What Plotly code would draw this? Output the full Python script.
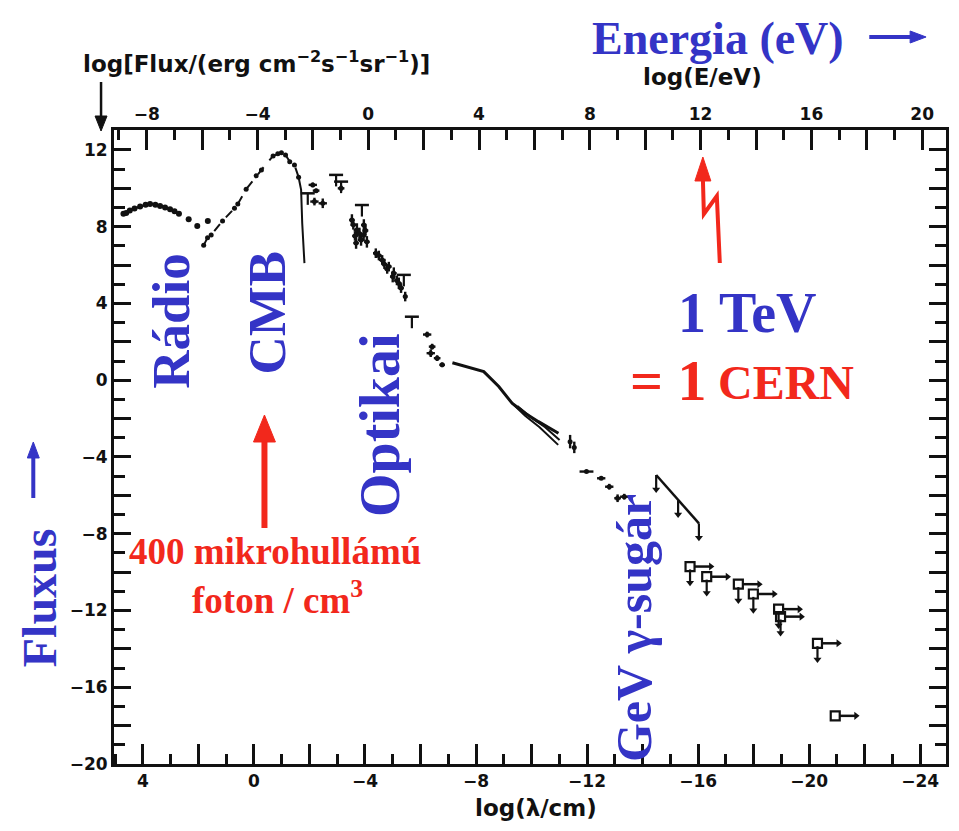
import plotly.graph_objects as go

# ---------------- data ----------------
# x = log(lambda/cm), y = log(flux / (erg cm^-2 s^-1 sr^-1))
radio_lam = [4.70, 4.60, 4.47, 4.30, 4.10, 3.90, 3.74, 3.55, 3.38, 3.20, 3.02, 2.86, 2.70]
radio_flux = [8.67, 8.72, 8.84, 8.95, 9.05, 9.14, 9.19, 9.15, 9.08, 9.00, 8.91, 8.80, 8.67]
radio2_lam = [2.35, 2.04, 1.66]
radio2_flux = [8.39, 8.04, 8.30]

cmb_lam = [1.81, 1.67, 1.54, 1.13, 0.70, 0.58, 0.28, -0.08, -0.27, -0.69, -0.86, -0.99, -1.14, -1.29, -1.46, -1.61]
cmb_flux = [7.03, 7.43, 7.57, 8.30, 8.96, 9.19, 9.95, 10.65, 10.96, 11.69, 11.80, 11.86, 11.74, 11.39, 11.22, 10.58]
wien_lam = [-1.61, -1.70, -1.74, -1.82]
wien_flux = [10.58, 9.92, 8.18, 6.10]

cross_lam = [-2.12, -2.24, -2.18, -2.48, -3.14,
             -3.53, -3.71, -3.96, -3.86, -4.07, -3.64, -3.58, -3.80, -3.95, -3.68, -4.02,
             -4.39, -4.50, -4.62, -4.70, -4.80, -4.86, -5.00, -5.04, -5.15, -5.22, -5.30, -5.45,
             -6.24, -6.42, -6.37, -6.60, -6.78,
             -11.39, -11.54, -11.98, -12.51, -12.80, -13.10, -13.34]
cross_flux = [10.18, 9.88, 9.31, 9.22, 10.00,
              8.35, 7.83, 8.09, 7.31, 7.21, 7.52, 8.10, 7.65, 7.55, 7.15, 7.80,
              6.62, 6.50, 6.27, 6.05, 5.80, 5.92, 5.40, 5.58, 5.20, 5.05, 4.80, 4.36,
              2.38, 1.75, 1.41, 1.15, 0.80,
              -3.20, -3.50, -4.76, -5.11, -5.55, -6.15, -6.07]
cross_ex = [0.15, 0.12, 0.15, 0.15, 0.12,
            0.10, 0.12, 0.10, 0.12, 0.10, 0.10, 0.10, 0.10, 0.10, 0.10, 0.10,
            0.10, 0.10, 0.12, 0.10, 0.10, 0.10, 0.10, 0.10, 0.10, 0.10, 0.10, 0.08,
            0.15, 0.12, 0.15, 0.12, 0.10,
            0.05, 0.05, 0.25, 0.15, 0.15, 0.12, 0.15]
cross_ey = [0.12, 0.10, 0.20, 0.25, 0.15,
            0.30, 0.35, 0.30, 0.30, 0.30, 0.25, 0.25, 0.30, 0.30, 0.30, 0.25,
            0.25, 0.25, 0.25, 0.25, 0.25, 0.25, 0.30, 0.30, 0.25, 0.30, 0.25, 0.25,
            0.15, 0.15, 0.20, 0.15, 0.12,
            0.35, 0.30, 0.05, 0.05, 0.15, 0.20, 0.15]

ul_lam = [-1.94, -2.96, -3.14, -3.89, -5.40, -5.69]
ul_flux = [9.74, 10.70, 10.35, 9.13, 5.49, 3.31]

xray_lam = [-7.15, -8.28, -8.82, -9.30, -9.77, -10.25, -10.97]
xray_flux = [0.91, 0.45, -0.33, -1.20, -1.72, -2.16, -2.76]
xray2_lam = [-9.30, -9.77, -10.29, -10.96]
xray2_flux = [-1.20, -1.85, -2.45, -3.37]
xray3_lam = [-9.49, -9.99, -10.49, -11.01]
xray3_flux = [-1.35, -1.95, -2.45, -3.11]

gam_lam = [-14.49, -15.28, -16.03]
gam_flux = [-4.94, -6.25, -7.46]

sq_lam = [-15.71, -16.31, -17.45, -17.99, -18.90, -18.97, -20.30, -20.94]
sq_flux = [-9.71, -10.24, -10.63, -11.14, -11.93, -12.32, -13.71, -17.49]
sq_down = [True, True, True, True, True, True, True, False]

# ---------------- styling ----------------
BLACK = "#111111"
BLUE = "#3434c6"
RED = "#f2281c"
SANS = "DejaVu Sans"
SERIF = "Liberation Serif"

fig = go.Figure()


def add(**kw):
    fig.add_trace(go.Scatter(showlegend=False, hoverinfo="skip", **kw))


# radio
add(x=radio_lam, y=radio_flux, mode="lines+markers",
    line=dict(color=BLACK, width=2), marker=dict(color=BLACK, size=6))
add(x=radio2_lam, y=radio2_flux, mode="markers", marker=dict(color=BLACK, size=6))
# CMB
add(x=cmb_lam, y=cmb_flux, mode="lines+markers",
    line=dict(color=BLACK, width=2, dash="dash"), marker=dict(color=BLACK, size=5))
add(x=wien_lam, y=wien_flux, mode="lines", line=dict(color=BLACK, width=2))
# crosses with error bars
add(x=cross_lam, y=cross_flux, mode="markers",
    marker=dict(color=BLACK, size=5),
    error_x=dict(type="data", array=cross_ex, width=0, thickness=2.4, color=BLACK),
    error_y=dict(type="data", array=cross_ey, width=0, thickness=2.4, color=BLACK))
# upper limits drawn as "T"
add(x=ul_lam, y=ul_flux, mode="markers",
    marker=dict(symbol="line-ew-open", size=10, color=BLACK, line=dict(color=BLACK, width=2.5)),
    error_y=dict(type="data", symmetric=False, array=[0] * len(ul_lam),
                 arrayminus=[0.6] * len(ul_lam), width=0, thickness=2.2, color=BLACK))
# X-ray bundle
add(x=xray_lam, y=xray_flux, mode="lines", line=dict(color=BLACK, width=3))
add(x=xray2_lam, y=xray2_flux, mode="lines", line=dict(color=BLACK, width=2))
add(x=xray3_lam, y=xray3_flux, mode="lines", line=dict(color=BLACK, width=2))

# gamma upper-limit line with down arrows
add(x=gam_lam, y=gam_flux, mode="lines", line=dict(color=BLACK, width=2.5))
gx, gy = [], []
for l, f in zip(gam_lam, gam_flux):
    gx += [l, l, None]
    gy += [f, f - 0.75, None]
add(x=gx, y=gy, mode="lines", line=dict(color=BLACK, width=2.2))
add(x=gam_lam, y=[f - 0.75 for f in gam_flux], mode="markers",
    marker=dict(symbol="triangle-down", size=7, color=BLACK))

# open squares with down and right arrows
dx, dy, tx, ty = [], [], [], []
for l, f, d in zip(sq_lam, sq_flux, sq_down):
    if d:
        dx += [l, l, None]
        dy += [f - 0.15, f - 0.85, None]
        tx.append(l)
        ty.append(f - 0.85)
add(x=dx, y=dy, mode="lines", line=dict(color=BLACK, width=2.2))
add(x=tx, y=ty, mode="markers", marker=dict(symbol="triangle-down", size=7, color=BLACK))
rx, ry = [], []
for l, f in zip(sq_lam, sq_flux):
    rx += [l - 0.15, l - 0.75, None]
    ry += [f, f, None]
add(x=rx, y=ry, mode="lines", line=dict(color=BLACK, width=2.5))
add(x=[l - 0.75 for l in sq_lam], y=sq_flux, mode="markers",
    marker=dict(symbol="triangle-right", size=7, color=BLACK))
add(x=sq_lam, y=sq_flux, mode="markers",
    marker=dict(symbol="square-open", size=9, color=BLACK, line=dict(width=2.2, color=BLACK)))

# top energy axis (dummy trace so it is drawn)
fig.add_trace(go.Scatter(x=[None], y=[None], xaxis="x2", yaxis="y", showlegend=False))

tickfont = dict(family=SANS, size=17, color=BLACK, weight="bold")
common = dict(tick0=0, dtick=2, ticklabelstep=2, ticks="inside", tickwidth=2.5,
              tickcolor=BLACK, showline=True, linewidth=3, linecolor=BLACK,
              showgrid=False, zeroline=False, tickfont=tickfont)

# the page body has an 8px margin: the figure is drawn 8px in from the window corner
OFF = 8
PL, PR, PT, PB = 114, 949, 130, 764
W, H = PR - PL, PB - PT
FIG_W, FIG_H = 959 - OFF, 831 - OFF

fig.update_layout(
    width=FIG_W, height=FIG_H,
    paper_bgcolor="white", plot_bgcolor="white",
    margin=dict(l=PL - OFF, r=FIG_W - (PR - OFF), t=PT - OFF, b=FIG_H - (PB - OFF)),
    showlegend=False,
    xaxis=dict(range=[5.04, -24.93], ticklen=20,
               minor=dict(tick0=0, dtick=1, ticks="inside", ticklen=10, tickwidth=2.5,
                          tickcolor=BLACK, showgrid=False), **common),
    xaxis2=dict(range=[-9.18, 20.86], overlaying="x", side="top", anchor="y", ticklen=20,
                minor=dict(tick0=0, dtick=1, ticks="inside", ticklen=10, tickwidth=2.5,
                           tickcolor=BLACK, showgrid=False), **common),
    yaxis=dict(range=[-20, 13.04], ticklen=17, mirror="ticks",
               minor=dict(tick0=0, dtick=1, ticks="inside", ticklen=11, tickwidth=2.5,
                          tickcolor=BLACK, showgrid=False), **common),
)


def px(x):
    return (x - PL) / W


def py(y):
    return (PB - y) / H


def P(x, y):
    return f"{px(x):.5f},{py(y):.5f}"


anns = []


def text(t, x, y, size, color, family, angle=0, bold=True):
    anns.append(dict(text=("<b>" + t + "</b>") if bold else t, x=px(x), y=py(y),
                     xref="paper", yref="paper", xanchor="center", yanchor="middle",
                     showarrow=False, textangle=angle,
                     font=dict(family=family, size=size, color=color)))


# axis titles
text("log[Flux/(erg cm<sup>−2</sup>s<sup>−1</sup>sr<sup>−1</sup>)]", 257, 62, 23, BLACK, SANS)
text("log(E/eV)", 705, 77, 23, BLACK, SANS)
text("log(λ/cm)", 538, 808, 23, BLACK, SANS)
# big labels
text("Energia (eV)", 720, 38, 46, BLUE, SERIF)
text("Fluxus", 39, 598, 48, BLUE, SERIF, angle=-90)
text("Rádio", 171, 321, 53, BLUE, SERIF, angle=-90)
text("CMB", 268, 312, 53, BLUE, SERIF, angle=-90)
text("Optikai", 381, 425, 56, BLUE, SERIF, angle=-90)
text("GeV γ-sugár", 636, 628, 50, BLUE, SERIF, angle=-90)
text("1 TeV", 750, 313, 56, BLUE, SERIF)
text("= 1", 671, 380, 58, RED, SERIF)
text("CERN", 788, 382, 48, RED, SERIF)
text("400 mikrohullámú", 276, 551, 37, RED, SERIF)
text("foton / cm<sup>3</sup>", 278, 597, 37, RED, SERIF)

shapes = []
# black arrow under "log"
shapes.append(dict(type="line", xref="paper", yref="paper", x0=px(101), y0=py(82),
                   x1=px(101), y1=py(118), line=dict(color=BLACK, width=2.5)))
shapes.append(dict(type="path", xref="paper", yref="paper",
                   path="M" + P(95, 116) + " L" + P(107, 116) + " L" + P(101, 131) + " Z",
                   fillcolor=BLACK, line=dict(color=BLACK, width=1)))
# blue energy arrow
shapes.append(dict(type="line", xref="paper", yref="paper", x0=px(872), y0=py(37),
                   x1=px(915), y1=py(37), line=dict(color=BLUE, width=4)))
shapes.append(dict(type="path", xref="paper", yref="paper",
                   path="M" + P(913, 31) + " L" + P(913, 43) + " L" + P(929, 37) + " Z",
                   fillcolor=BLUE, line=dict(color=BLUE, width=1)))
# blue flux arrow (vertical)
shapes.append(dict(type="line", xref="paper", yref="paper", x0=px(33), y0=py(498),
                   x1=px(33), y1=py(456), line=dict(color=BLUE, width=4)))
shapes.append(dict(type="path", xref="paper", yref="paper",
                   path="M" + P(27, 458) + " L" + P(39, 458) + " L" + P(33, 442) + " Z",
                   fillcolor=BLUE, line=dict(color=BLUE, width=1)))
# red CMB arrow
shapes.append(dict(type="line", xref="paper", yref="paper", x0=px(265), y0=py(528),
                   x1=px(265), y1=py(440), line=dict(color=RED, width=6)))
shapes.append(dict(type="path", xref="paper", yref="paper",
                   path="M" + P(254, 442) + " L" + P(276, 442) + " L" + P(265, 415) + " Z",
                   fillcolor=RED, line=dict(color=RED, width=1)))
# red lightning arrow
shapes.append(dict(type="path", xref="paper", yref="paper",
                   path="M" + P(722, 263) + " L" + P(719, 196) + " L" + P(706, 214) + " L" + P(705, 178),
                   line=dict(color=RED, width=4)))
shapes.append(dict(type="path", xref="paper", yref="paper",
                   path="M" + P(697, 181) + " L" + P(713, 181) + " L" + P(705, 157) + " Z",
                   fillcolor=RED, line=dict(color=RED, width=1)))

fig.update_layout(annotations=anns, shapes=shapes)
fig.write_html("out.html")
